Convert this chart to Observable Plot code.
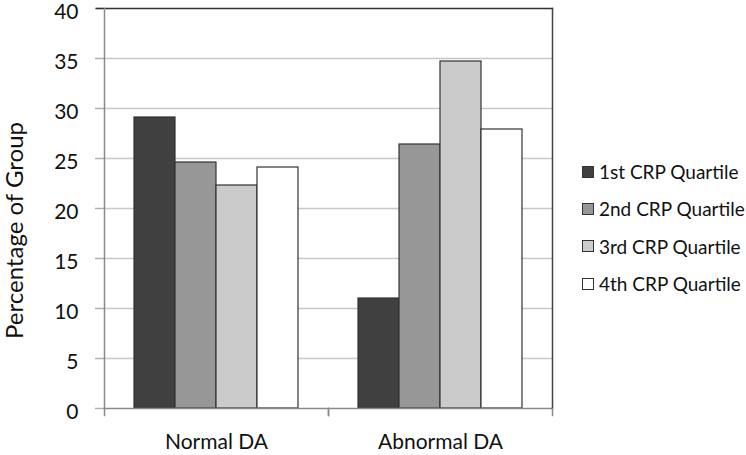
<!DOCTYPE html>
<html>
<head>
<meta charset="utf-8">
<script src="https://cdn.jsdelivr.net/npm/d3@7"></script>
<script src="https://cdn.jsdelivr.net/npm/@observablehq/plot@0.6"></script>
<style>
  html, body { margin: 0; padding: 0; background: #fff; }
  #wrap { position: relative; width: 746px; height: 455px; font-family: Lato, "Open Sans", sans-serif; }
  #legend { position: absolute; left: 582px; top: 153px; font-size: 19px; color: #111; white-space: nowrap; }
  #legend .row { display: flex; align-items: center; height: 37.3px; }
  #legend .sw { width: 12px; height: 12px; border: 1px solid #333; margin-right: 5px; box-sizing: border-box; flex: none; }
</style>
</head>
<body>
<div id="wrap"><div id="legend"></div></div>
<script>
const groups = ["Normal DA", "Abnormal DA"];
const quartiles = ["1st CRP Quartile", "2nd CRP Quartile", "3rd CRP Quartile", "4th CRP Quartile"];
const normalValues = [29.1, 24.6, 22.3, 24.1];
const abnormalValues = [11.0, 26.4, 34.7, 27.9];
const yTicks = [0, 5, 10, 15, 20, 25, 30, 35, 40];
const colors = ["#404040", "#979797", "#cbcbcb", "#ffffff"];
const yLabel = "Percentage of Group";

const data = [];
quartiles.forEach((q, i) => data.push({group: groups[0], quartile: q, value: normalValues[i]}));
quartiles.forEach((q, i) => data.push({group: groups[1], quartile: q, value: abnormalValues[i]}));

const chart = Plot.plot({
  width: 746,
  height: 455,
  marginLeft: 103,
  marginRight: 194,
  marginTop: 8,
  marginBottom: 47,
  style: {fontFamily: "Lato, 'Open Sans', sans-serif", fontSize: "21px", color: "#111", background: "transparent"},
  fx: {domain: groups, padding: 0, label: null},
  x: {domain: quartiles, paddingInner: 0, paddingOuter: 0.73, axis: null},
  y: {domain: [0, 40], ticks: yTicks},
  color: {domain: quartiles, range: colors},
  marks: [
    Plot.ruleY(yTicks.filter(d => d > 0 && d < 40), {stroke: "#c8c8c8", strokeWidth: 1.5}),
    Plot.axisY({ticks: yTicks, tickSize: 9, tickFormat: () => "", stroke: "#b0b0b0", strokeWidth: 1.5, label: null}),
    Plot.axisY({ticks: yTicks, tickSize: 0, tickPadding: 26, fontSize: 21, dy: 3.5, label: null}),
    Plot.text([yLabel], {frameAnchor: "left", textAnchor: "middle", rotate: -90, dx: -89, dy: 22, fontSize: 24, fill: "#111", facet: "super"}),
    Plot.axisFx({anchor: "bottom", tickSize: 0, tickPadding: 26, fontSize: 21, label: null}),
    Plot.barY(data, {fx: "group", x: "quartile", y: "value", fill: "quartile", stroke: "#333", strokeWidth: 1.2}),
    Plot.ruleY([0], {stroke: "#8a8a8a", strokeWidth: 1.5}),
    Plot.frame({anchor: "top", facet: "super", stroke: "#333", strokeWidth: 1.5, insetLeft: -8}),
    Plot.frame({anchor: "left", facet: "super", stroke: "#8a8a8a", strokeWidth: 1.5}),
    Plot.frame({anchor: "right", facet: "super", stroke: "#444", strokeWidth: 1.5}),
    Plot.frame({anchor: "left", stroke: "#8a8a8a", strokeWidth: 1.5, insetTop: 400, insetBottom: -7}),
    Plot.frame({anchor: "right", stroke: "#8a8a8a", strokeWidth: 1.5, insetTop: 400, insetBottom: -7})
  ]
});
document.getElementById("wrap").prepend(chart);

const legend = document.getElementById("legend");
quartiles.forEach((q, i) => {
  const row = document.createElement("div");
  row.className = "row";
  const sw = document.createElement("div");
  sw.className = "sw";
  sw.style.background = colors[i];
  row.appendChild(sw);
  const t = document.createElement("span");
  t.textContent = q;
  row.appendChild(t);
  legend.appendChild(row);
});
</script>
</body>
</html>
